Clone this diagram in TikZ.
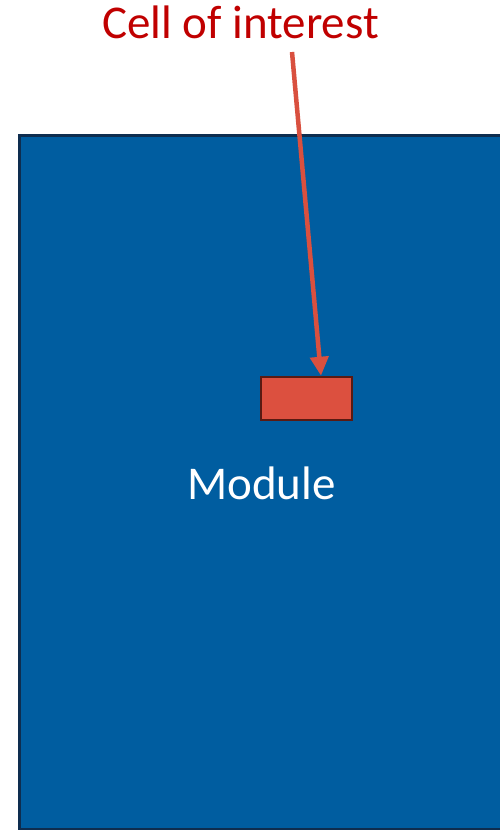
\documentclass[tikz,border=0pt]{standalone}
\usepackage{fontspec}
\setmainfont{Carlito}
\usetikzlibrary{arrows.meta,calc}
\definecolor{modblue}{HTML}{005DA0}
\definecolor{modedge}{HTML}{0E2D4F}
\definecolor{cellred}{HTML}{DC503F}
\definecolor{celledge}{HTML}{5A1A12}
\definecolor{labelred}{HTML}{C00000}
\definecolor{arrowred}{HTML}{D9503F}
\tikzset{
  module/.style={draw=modedge,fill=modblue,line width=3bp},
  cellbox/.style={draw=celledge,fill=cellred,line width=2.5bp,minimum width=91bp,minimum height=43bp,inner sep=0pt},
  bigtext/.style={font=\fontsize{47bp}{50bp}\selectfont,inner sep=0pt,anchor=base},
  pointer/.style={draw=arrowred,line width=4.5bp,-{Triangle[length=19bp,width=18bp]}}
}
\begin{document}
\begin{tikzpicture}[x=1bp,y=-1bp]
\useasboundingbox (0,0) rectangle (500,830);
\clip (0,0) rectangle (500,830);
\draw[module] (19.5,135.5) rectangle (515,829);
\node[bigtext,text=labelred] (label) at (240.5,38) {Cell of interest};
\node[bigtext,text=white] (module) at (261.5,499) {Module};
\node[cellbox] (cell) at (306.5,398.5) {};
\coordinate (start) at (292,52);
\draw[pointer] (start) -- ($(cell.north)+(14.5,0)$);
\end{tikzpicture}
\end{document}
